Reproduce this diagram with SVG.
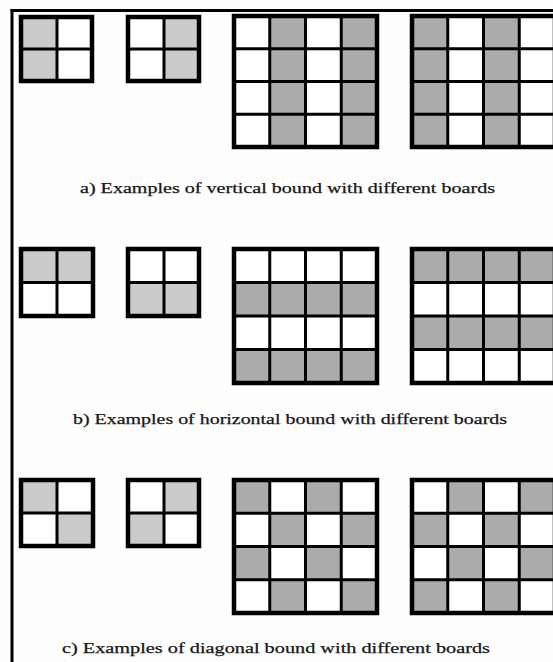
<svg xmlns="http://www.w3.org/2000/svg" width="553" height="662" viewBox="0 0 553 662">
<style>
.bg{fill:#fefefe}
.frame{stroke:#000;stroke-width:3;fill:none}
.g1{fill:#cbcbcb}
.g2{fill:#ababab}
.cell{fill:#fff}
.out{fill:none;stroke:#000;stroke-width:4.5}
.in{stroke:#000;stroke-width:3}
.cap{font-family:"Liberation Serif","Times New Roman",serif;font-size:15px;fill:#161616;stroke:#161616;stroke-width:0.25}
</style>
<rect class="bg" x="0" y="0" width="553" height="662"/>
<g id="frame">
<line class="frame" x1="10.5" y1="10.5" x2="553" y2="10.5"/>
<line class="frame" x1="12" y1="9" x2="12" y2="662"/>
</g>

<!-- Section a -->
<g id="a-small-1">
<rect class="cell" x="21" y="17" width="71" height="64"/>
<rect class="g1" x="21" y="17" width="36" height="64"/>
<line class="in" x1="57" y1="17" x2="57" y2="81"/>
<line class="in" x1="21" y1="49" x2="92" y2="49"/>
<rect class="out" x="21" y="17" width="71" height="64"/>
</g>
<g id="a-small-2">
<rect class="cell" x="128" y="17" width="71" height="64"/>
<rect class="g1" x="164" y="17" width="35" height="64"/>
<line class="in" x1="164" y1="17" x2="164" y2="81"/>
<line class="in" x1="128" y1="49" x2="199" y2="49"/>
<rect class="out" x="128" y="17" width="71" height="64"/>
</g>
<g id="a-large-1">
<rect class="cell" x="234" y="16" width="143" height="131"/>
<rect class="g2" x="269.75" y="16" width="35.75" height="131"/>
<rect class="g2" x="341.25" y="16" width="35.75" height="131"/>
<line class="in" x1="269.75" y1="16" x2="269.75" y2="147"/>
<line class="in" x1="305.5" y1="16" x2="305.5" y2="147"/>
<line class="in" x1="341.25" y1="16" x2="341.25" y2="147"/>
<line class="in" x1="234" y1="48.75" x2="377" y2="48.75"/>
<line class="in" x1="234" y1="81.5" x2="377" y2="81.5"/>
<line class="in" x1="234" y1="114.25" x2="377" y2="114.25"/>
<rect class="out" x="234" y="16" width="143" height="131"/>
</g>
<g id="a-large-2">
<rect class="cell" x="412" y="16" width="143" height="131"/>
<rect class="g2" x="412" y="16" width="35.75" height="131"/>
<rect class="g2" x="483.5" y="16" width="35.75" height="131"/>
<line class="in" x1="447.75" y1="16" x2="447.75" y2="147"/>
<line class="in" x1="483.5" y1="16" x2="483.5" y2="147"/>
<line class="in" x1="519.25" y1="16" x2="519.25" y2="147"/>
<line class="in" x1="412" y1="48.75" x2="555" y2="48.75"/>
<line class="in" x1="412" y1="81.5" x2="555" y2="81.5"/>
<line class="in" x1="412" y1="114.25" x2="555" y2="114.25"/>
<rect class="out" x="412" y="16" width="143" height="131"/>
</g>
<text id="cap-a" class="cap" x="80" y="193" textLength="415" lengthAdjust="spacingAndGlyphs">a) Examples  of vertical  bound with different boards</text>

<!-- Section b -->
<g id="b-small-1">
<rect class="cell" x="21" y="249" width="72" height="67"/>
<rect class="g1" x="21" y="249" width="72" height="33.5"/>
<line class="in" x1="57" y1="249" x2="57" y2="316"/>
<line class="in" x1="21" y1="282.5" x2="93" y2="282.5"/>
<rect class="out" x="21" y="249" width="72" height="67"/>
</g>
<g id="b-small-2">
<rect class="cell" x="128" y="249" width="71" height="67"/>
<rect class="g1" x="128" y="282.5" width="71" height="33.5"/>
<line class="in" x1="164" y1="249" x2="164" y2="316"/>
<line class="in" x1="128" y1="282.5" x2="199" y2="282.5"/>
<rect class="out" x="128" y="249" width="71" height="67"/>
</g>
<g id="b-large-1">
<rect class="cell" x="234" y="249" width="143" height="134"/>
<rect class="g2" x="234" y="282.5" width="143" height="33.5"/>
<rect class="g2" x="234" y="349.5" width="143" height="33.5"/>
<line class="in" x1="269.75" y1="249" x2="269.75" y2="383"/>
<line class="in" x1="305.5" y1="249" x2="305.5" y2="383"/>
<line class="in" x1="341.25" y1="249" x2="341.25" y2="383"/>
<line class="in" x1="234" y1="282.5" x2="377" y2="282.5"/>
<line class="in" x1="234" y1="316" x2="377" y2="316"/>
<line class="in" x1="234" y1="349.5" x2="377" y2="349.5"/>
<rect class="out" x="234" y="249" width="143" height="134"/>
</g>
<g id="b-large-2">
<rect class="cell" x="412" y="249" width="143" height="134"/>
<rect class="g2" x="412" y="249" width="143" height="33.5"/>
<rect class="g2" x="412" y="316" width="143" height="33.5"/>
<line class="in" x1="447.75" y1="249" x2="447.75" y2="383"/>
<line class="in" x1="483.5" y1="249" x2="483.5" y2="383"/>
<line class="in" x1="519.25" y1="249" x2="519.25" y2="383"/>
<line class="in" x1="412" y1="282.5" x2="555" y2="282.5"/>
<line class="in" x1="412" y1="316" x2="555" y2="316"/>
<line class="in" x1="412" y1="349.5" x2="555" y2="349.5"/>
<rect class="out" x="412" y="249" width="143" height="134"/>
</g>
<text id="cap-b" class="cap" x="73" y="424" textLength="434" lengthAdjust="spacingAndGlyphs">b) Examples of horizontal  bound with different  boards</text>

<!-- Section c -->
<g id="c-small-1">
<rect class="cell" x="21" y="480" width="72" height="66"/>
<rect class="g1" x="21" y="480" width="36" height="33"/>
<rect class="g1" x="57" y="513" width="36" height="33"/>
<line class="in" x1="57" y1="480" x2="57" y2="546"/>
<line class="in" x1="21" y1="513" x2="93" y2="513"/>
<rect class="out" x="21" y="480" width="72" height="66"/>
</g>
<g id="c-small-2">
<rect class="cell" x="128" y="480" width="71" height="66"/>
<rect class="g1" x="164" y="480" width="35" height="33"/>
<rect class="g1" x="128" y="513" width="36" height="33"/>
<line class="in" x1="164" y1="480" x2="164" y2="546"/>
<line class="in" x1="128" y1="513" x2="199" y2="513"/>
<rect class="out" x="128" y="480" width="71" height="66"/>
</g>
<g id="c-large-1">
<rect class="cell" x="234" y="480" width="143" height="133"/>
<rect class="g2" x="234" y="480" width="35.75" height="33.25"/>
<rect class="g2" x="305.5" y="480" width="35.75" height="33.25"/>
<rect class="g2" x="269.75" y="513.25" width="35.75" height="33.25"/>
<rect class="g2" x="341.25" y="513.25" width="35.75" height="33.25"/>
<rect class="g2" x="234" y="546.5" width="35.75" height="33.25"/>
<rect class="g2" x="305.5" y="546.5" width="35.75" height="33.25"/>
<rect class="g2" x="269.75" y="579.75" width="35.75" height="33.25"/>
<rect class="g2" x="341.25" y="579.75" width="35.75" height="33.25"/>
<line class="in" x1="269.75" y1="480" x2="269.75" y2="613"/>
<line class="in" x1="305.5" y1="480" x2="305.5" y2="613"/>
<line class="in" x1="341.25" y1="480" x2="341.25" y2="613"/>
<line class="in" x1="234" y1="513.25" x2="377" y2="513.25"/>
<line class="in" x1="234" y1="546.5" x2="377" y2="546.5"/>
<line class="in" x1="234" y1="579.75" x2="377" y2="579.75"/>
<rect class="out" x="234" y="480" width="143" height="133"/>
</g>
<g id="c-large-2">
<rect class="cell" x="412" y="480" width="143" height="133"/>
<rect class="g2" x="447.75" y="480" width="35.75" height="33.25"/>
<rect class="g2" x="519.25" y="480" width="35.75" height="33.25"/>
<rect class="g2" x="412" y="513.25" width="35.75" height="33.25"/>
<rect class="g2" x="483.5" y="513.25" width="35.75" height="33.25"/>
<rect class="g2" x="447.75" y="546.5" width="35.75" height="33.25"/>
<rect class="g2" x="519.25" y="546.5" width="35.75" height="33.25"/>
<rect class="g2" x="412" y="579.75" width="35.75" height="33.25"/>
<rect class="g2" x="483.5" y="579.75" width="35.75" height="33.25"/>
<line class="in" x1="447.75" y1="480" x2="447.75" y2="613"/>
<line class="in" x1="483.5" y1="480" x2="483.5" y2="613"/>
<line class="in" x1="519.25" y1="480" x2="519.25" y2="613"/>
<line class="in" x1="412" y1="513.25" x2="555" y2="513.25"/>
<line class="in" x1="412" y1="546.5" x2="555" y2="546.5"/>
<line class="in" x1="412" y1="579.75" x2="555" y2="579.75"/>
<rect class="out" x="412" y="480" width="143" height="133"/>
</g>
<text id="cap-c" class="cap" x="62" y="653" textLength="428" lengthAdjust="spacingAndGlyphs">c) Examples  of diagonal  bound with different boards</text>
</svg>
